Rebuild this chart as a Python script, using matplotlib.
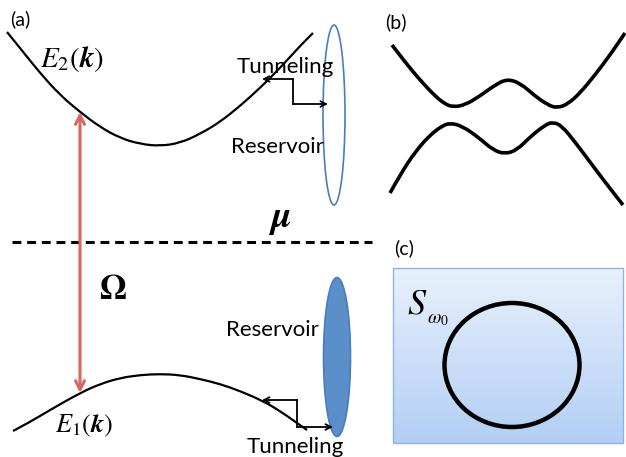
import matplotlib
matplotlib.use('Agg')
import matplotlib.pyplot as plt
import numpy as np
from matplotlib.patches import Ellipse, Rectangle, PathPatch
from matplotlib.path import Path

plt.rcParams['mathtext.fontset'] = 'stix'

# ---- data (pixel coordinates, y downward) ----
e2_x = [7, 20, 40, 60, 80, 100, 120, 140, 160, 180, 200, 220, 240, 260, 280, 300, 313]
e2_y = [32, 48, 73, 95, 112, 127, 138, 144, 146, 143, 134, 122, 106, 88, 68, 46, 33]
e1_x = [13, 30, 50, 80, 100, 120, 140, 160, 180, 200, 220, 240, 263, 280, 297, 307]
e1_y = [431, 422, 410, 393, 384, 378, 375, 374, 375, 379, 384, 391, 401, 411, 423, 430]
b_up_x = [392, 405, 420, 435, 445, 453, 465, 480, 495, 507, 520, 535, 548, 557, 568, 580, 595, 610, 625]
b_up_y = [45, 62, 80, 96, 104, 107, 105, 96, 85, 79, 83, 96, 105, 108, 104, 93, 75, 55, 33]
b_lo_x = [390, 400, 415, 430, 442, 450, 462, 478, 493, 505, 517, 530, 545, 553, 562, 575, 590, 605, 623]
b_lo_y = [193, 175, 152, 135, 126, 123, 126, 137, 150, 154, 150, 137, 125, 122, 126, 142, 162, 182, 205]
tun_up = [(262, 79), (293, 79), (293, 104), (328, 104)]
tun_lo = [(262, 400), (297, 400), (297, 427), (333, 427)]

W, H = 626, 457
fig = plt.figure(figsize=(6.26, 4.57), dpi=100)
ax = fig.add_axes([0, 0, 1, 1])

sans = 'Lato'


def smooth_curve(xs, ys, lw, color='black'):
    """Draw a smooth curve through the read points using quadratic Bezier segments."""
    pts = list(zip(xs, ys))
    verts = [pts[0]]
    codes = [Path.MOVETO]
    for i in range(1, len(pts) - 1):
        mid = ((pts[i][0] + pts[i + 1][0]) / 2, (pts[i][1] + pts[i + 1][1]) / 2)
        verts += [pts[i], mid]
        codes += [Path.CURVE3, Path.CURVE3]
    verts.append(pts[-1])
    codes.append(Path.LINETO)
    ax.add_patch(PathPatch(Path(verts, codes), fill=False, edgecolor=color, lw=lw,
                           capstyle='butt', joinstyle='round'))


# panel (c) gradient box
top = np.array([0.91, 0.945, 0.99])
bot = np.array([0.70, 0.81, 0.96])
t = np.linspace(0, 1, 200)[:, None, None]
grad = top * (1 - t) + bot * t
grad = np.repeat(grad, 2, axis=1)
ax.imshow(grad, extent=[393, 623, 443, 268], aspect='auto', origin='upper', zorder=0)
ax.add_patch(Rectangle((393, 268), 230, 175, fill=False, edgecolor='#8fb3e0', lw=1.0, zorder=1))
ax.add_patch(Ellipse((512, 365), 135, 124, fill=False, edgecolor='black', lw=3.2, zorder=2))
ax.text(417, 304, r'$S$', fontsize=26, ha='center', va='center')
ax.text(438, 319, r'$\omega_0$', fontsize=14, ha='center', va='center')

# panel (a)
smooth_curve(e2_x, e2_y, 1.6)
smooth_curve(e1_x, e1_y, 1.6)
ax.plot([12, 372], [242, 242], color='black', lw=2.2, dashes=(2.9, 1.9))

ax.annotate('', xy=(80, 112), xytext=(80, 393),
            arrowprops=dict(arrowstyle='<->', color='#d4685f', lw=2.2, mutation_scale=16,
                            shrinkA=0, shrinkB=0))

for pts in (tun_up, tun_lo):
    ax.annotate('', xy=pts[0], xytext=pts[1],
                arrowprops=dict(arrowstyle='->', color='black', lw=1.3, mutation_scale=10,
                                shrinkA=0, shrinkB=0))
    ax.plot([pts[1][0], pts[2][0]], [pts[1][1], pts[2][1]], color='black', lw=1.3)
    ax.annotate('', xy=pts[3], xytext=pts[2],
                arrowprops=dict(arrowstyle='->', color='black', lw=1.3, mutation_scale=10,
                                shrinkA=0, shrinkB=0))

ax.add_patch(Ellipse((334, 115), 22, 180, fill=False, edgecolor='#4a7ebb', lw=1.2))
ax.add_patch(Ellipse((337, 357), 27, 159, facecolor='#5b8fca', edgecolor='#4a7ebb', lw=1.2))

ax.text(285, 67, 'Tunneling', fontsize=16, family=sans, ha='center', va='center')
ax.text(277, 147, 'Reservoir', fontsize=16, family=sans, ha='center', va='center')
ax.text(272, 330, 'Reservoir', fontsize=16, family=sans, ha='center', va='center')
ax.text(295, 447, 'Tunneling', fontsize=16, family=sans, ha='center', va='center')

ax.text(72, 59, r'$E_2\left(\boldsymbol{k}\right)$', fontsize=21, ha='center', va='center')
ax.text(84, 426, r'$E_1\left(\boldsymbol{k}\right)$', fontsize=19, ha='center', va='center')
ax.text(280, 219, r'$\boldsymbol{\mu}$', fontsize=27, ha='center', va='center')
ax.text(113, 289, r'$\mathbf{\Omega}$', fontsize=25, ha='center', va='center')

ax.text(20, 19, '(a)', fontsize=14, family=sans, ha='center', va='center')
ax.text(396, 22, '(b)', fontsize=14, family=sans, ha='center', va='center')
ax.text(404, 248, '(c)', fontsize=14, family=sans, ha='center', va='center')

# panel (b)
smooth_curve(b_up_x, b_up_y, 2.6)
smooth_curve(b_lo_x, b_lo_y, 2.6)

ax.set_xlim(0, W)
ax.set_ylim(H, 0)
ax.axis('off')
fig.savefig('out.png', dpi=100)
